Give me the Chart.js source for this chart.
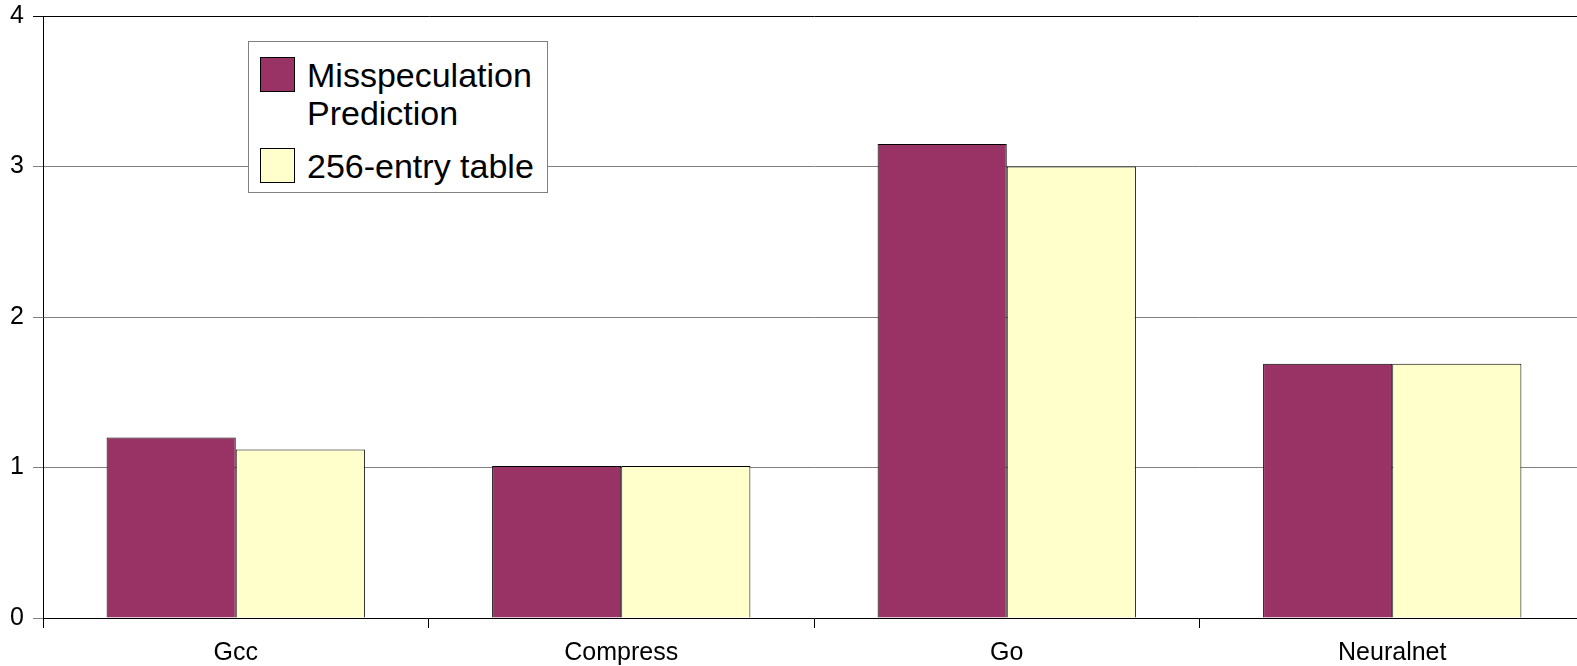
<!DOCTYPE html>
<html lang="en">
<head>
    <meta charset="UTF-8">
    <title>Misspeculation Prediction vs 256-entry table</title>
    <script src="https://cdn.jsdelivr.net/npm/chart.js"></script>
    <style>
        html, body {
            margin: 0;
            padding: 0;
            background: #fff;
            overflow: hidden;
        }
        .chart-box {
            position: relative;
            width: 1577px;
            height: 666px;
            overflow: hidden;
        }
        #legend {
            position: absolute;
            left: 248px;
            top: 41px;
            width: 298px;
            height: 150px;
            border: 1px solid #808080;
            background: #fff;
            font-family: 'Liberation Sans', Arial, sans-serif;
            font-size: 34px;
            line-height: 38px;
            color: #000;
        }
        .legend-item {
            position: absolute;
            left: 11px;
            display: flex;
            align-items: flex-start;
        }
        .legend-swatch {
            width: 33px;
            height: 33px;
            border: 1px solid #000;
            margin-right: 12px;
            flex: none;
        }
    </style>
</head>
<body>
    <div class="chart-box">
        <!-- canvas a bit wider than the page: the plot runs off the right edge in the original -->
        <canvas id="barChart" width="1585" height="666"></canvas>
        <div id="legend"></div>
    </div>

    <script>
        const categories = ['Gcc', 'Compress', 'Go', 'Neuralnet'];
        const seriesNames = ['Misspeculation Prediction', '256-entry table'];
        const mispredValues = [1.20, 1.01, 3.15, 1.69];
        const tableValues = [1.12, 1.01, 3.00, 1.69];
        const yTicks = [0, 1, 2, 3, 4];
        const colors = ['#993366', '#FFFFCC'];

        const font = { family: "'Liberation Sans', Arial, sans-serif", size: 25 };

        const chart = new Chart(document.getElementById('barChart'), {
            type: 'bar',
            data: {
                labels: categories,
                datasets: [
                    { label: seriesNames[0], data: mispredValues, backgroundColor: colors[0] },
                    { label: seriesNames[1], data: tableValues, backgroundColor: colors[1] }
                ]
            },
            options: {
                responsive: false,
                animation: false,
                layout: { padding: { top: 16, right: 0, left: 0, bottom: 0 } },
                datasets: {
                    bar: {
                        borderColor: '#000',
                        borderWidth: 1,
                        categoryPercentage: 0.67,
                        barPercentage: 1.0
                    }
                },
                plugins: {
                    legend: { display: false },
                    tooltip: { enabled: false }
                },
                scales: {
                    x: {
                        offset: true,
                        afterFit: s => { s.height = 48; s.paddingLeft = 0; s.paddingRight = 0; },
                        grid: {
                            offset: true,
                            drawOnChartArea: false,
                            tickLength: 10,
                            color: '#000'
                        },
                        border: { color: '#000', width: 1 },
                        ticks: { color: '#000', font: font, padding: 10, maxRotation: 0 }
                    },
                    y: {
                        min: 0,
                        max: 4,
                        afterFit: s => { s.width = 43; s.paddingTop = 0; s.paddingBottom = 0; },
                        afterBuildTicks: s => { s.ticks = yTicks.map(v => ({ value: v })); },
                        grid: {
                            color: c => (c.tick && c.tick.value === 4) ? '#000' : '#808080',
                            tickLength: 10,
                            lineWidth: 1
                        },
                        border: { color: '#000', width: 1 },
                        ticks: { color: '#000', font: font, padding: 9 }
                    }
                }
            }
        });

        // legend box built from the datasets
        const legend = document.getElementById('legend');
        const itemTops = [14, 105];
        const itemTexts = ['Misspeculation<br>Prediction', '256-entry table'];
        chart.data.datasets.forEach((ds, i) => {
            const item = document.createElement('div');
            item.className = 'legend-item';
            item.style.top = itemTops[i] + 'px';
            item.innerHTML = `<span class="legend-swatch" style="background:${ds.backgroundColor};margin-top:1px"></span><span>${itemTexts[i]}</span>`;
            legend.appendChild(item);
        });
    </script>
</body>
</html>
